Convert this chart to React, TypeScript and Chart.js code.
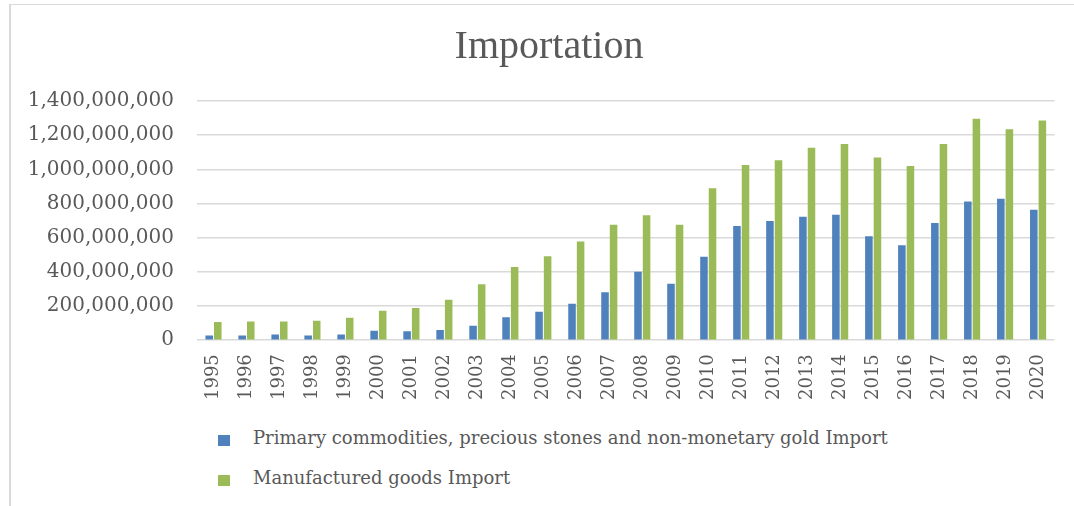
import React, { useEffect, useRef } from "react";
import { Chart, registerables } from "chart.js";

Chart.register(...registerables);

const chartTitle = "Importation";
const years = [
  "1995", "1996", "1997", "1998", "1999", "2000", "2001", "2002", "2003",
  "2004", "2005", "2006", "2007", "2008", "2009", "2010", "2011", "2012",
  "2013", "2014", "2015", "2016", "2017", "2018", "2019", "2020",
];
const primaryLabel = "Primary commodities, precious stones and non-monetary gold Import";
const manufacturedLabel = "Manufactured goods Import";
const primaryImport = [
  28e6, 28e6, 33e6, 28e6, 33e6, 55e6, 53e6, 59e6, 85e6, 134e6, 166e6, 213e6,
  280e6, 400e6, 331e6, 489e6, 669e6, 698e6, 722e6, 734e6, 609e6, 556e6, 686e6,
  812e6, 828e6, 763e6,
];
const manufacturedImport = [
  106e6, 110e6, 110e6, 114e6, 132e6, 172e6, 189e6, 237e6, 327e6, 428e6, 491e6,
  578e6, 676e6, 732e6, 675e6, 889e6, 1025e6, 1053e6, 1126e6, 1148e6, 1069e6,
  1020e6, 1148e6, 1296e6, 1235e6, 1286e6,
];
const yMin = 0;
const yMax = 1400000000;
const yStep = 200000000;

const BLUE = "#4F81BD";
const GREEN = "#9BBB59";
const TEXT = "#595959";
const GRID = "#d9d9d9";

export default function App() {
  const canvasRef = useRef<HTMLCanvasElement | null>(null);

  useEffect(() => {
    if (!canvasRef.current) return;
    const chart = new Chart(canvasRef.current, {
      type: "bar",
      data: {
        labels: years,
        datasets: [
          {
            label: primaryLabel,
            data: primaryImport,
            backgroundColor: BLUE,
            categoryPercentage: 0.52,
            barPercentage: 0.88,
          },
          {
            label: manufacturedLabel,
            data: manufacturedImport,
            backgroundColor: GREEN,
            categoryPercentage: 0.52,
            barPercentage: 0.88,
          },
        ],
      },
      options: {
        responsive: false,
        animation: false,
        layout: { padding: { left: 28, right: 4, top: 0, bottom: 6 } },
        plugins: {
          legend: { display: false },
          tooltip: { enabled: false },
          title: {
            display: true,
            text: chartTitle,
            color: TEXT,
            font: { family: "'Liberation Serif', serif", size: 40, weight: "normal" },
            padding: { top: 23, bottom: 30 },
          },
        },
        scales: {
          x: {
            grid: { display: false, drawTicks: false },
            border: { display: false },
            ticks: {
              color: TEXT,
              font: { family: "'DejaVu Serif', serif", size: 18 },
              minRotation: 90,
              maxRotation: 90,
              padding: 14,
              autoSkip: false,
            },
          },
          y: {
            min: yMin,
            max: yMax,
            grid: { color: GRID, lineWidth: 1.5, drawTicks: false },
            border: { display: false },
            afterFit: (scale: any) => {
              scale.width = 169;
            },
            ticks: {
              stepSize: yStep,
              color: TEXT,
              font: { family: "'DejaVu Serif', serif", size: 20 },
              padding: 23,
              callback: (v: any) => Number(v).toLocaleString("en-US"),
            },
          },
          rightSpace: {
            type: "linear",
            position: "right",
            display: true,
            grid: { display: false, drawTicks: false },
            border: { display: false },
            ticks: { display: false },
            afterFit: (scale: any) => {
              scale.width = 12;
            },
          },
        },
      },
    });
    return () => chart.destroy();
  }, []);

  const legendItems = [
    { label: primaryLabel, color: BLUE, top: 429 },
    { label: manufacturedLabel, color: GREEN, top: 469 },
  ];

  return (
    <div
      style={{
        position: "fixed",
        left: 0,
        top: 0,
        width: 1074,
        height: 506,
        background: "#ffffff",
        overflow: "hidden",
      }}
    >
      <div
        style={{
          position: "absolute",
          left: 9,
          top: 4,
          width: 1100,
          height: 600,
          borderLeft: `2px solid ${GRID}`,
          borderTop: `1px solid ${GRID}`,
        }}
      />
      <canvas
        ref={canvasRef}
        width={1074}
        height={420}
        style={{ position: "absolute", left: 0, top: 0, width: 1074, height: 420 }}
      />
      {legendItems.map((it) => (
        <div
          key={it.label}
          style={{
            position: "absolute",
            left: 218,
            top: it.top,
            height: 18,
            display: "flex",
            alignItems: "center",
            fontFamily: "'DejaVu Serif', serif",
            fontSize: 18,
            lineHeight: "18px",
            color: TEXT,
            whiteSpace: "nowrap",
          }}
        >
          <span
            style={{
              display: "inline-block",
              width: 12,
              height: 11,
              background: it.color,
              marginRight: 23,
              marginTop: 4,
            }}
          />
          <span>{it.label}</span>
        </div>
      ))}
    </div>
  );
}
